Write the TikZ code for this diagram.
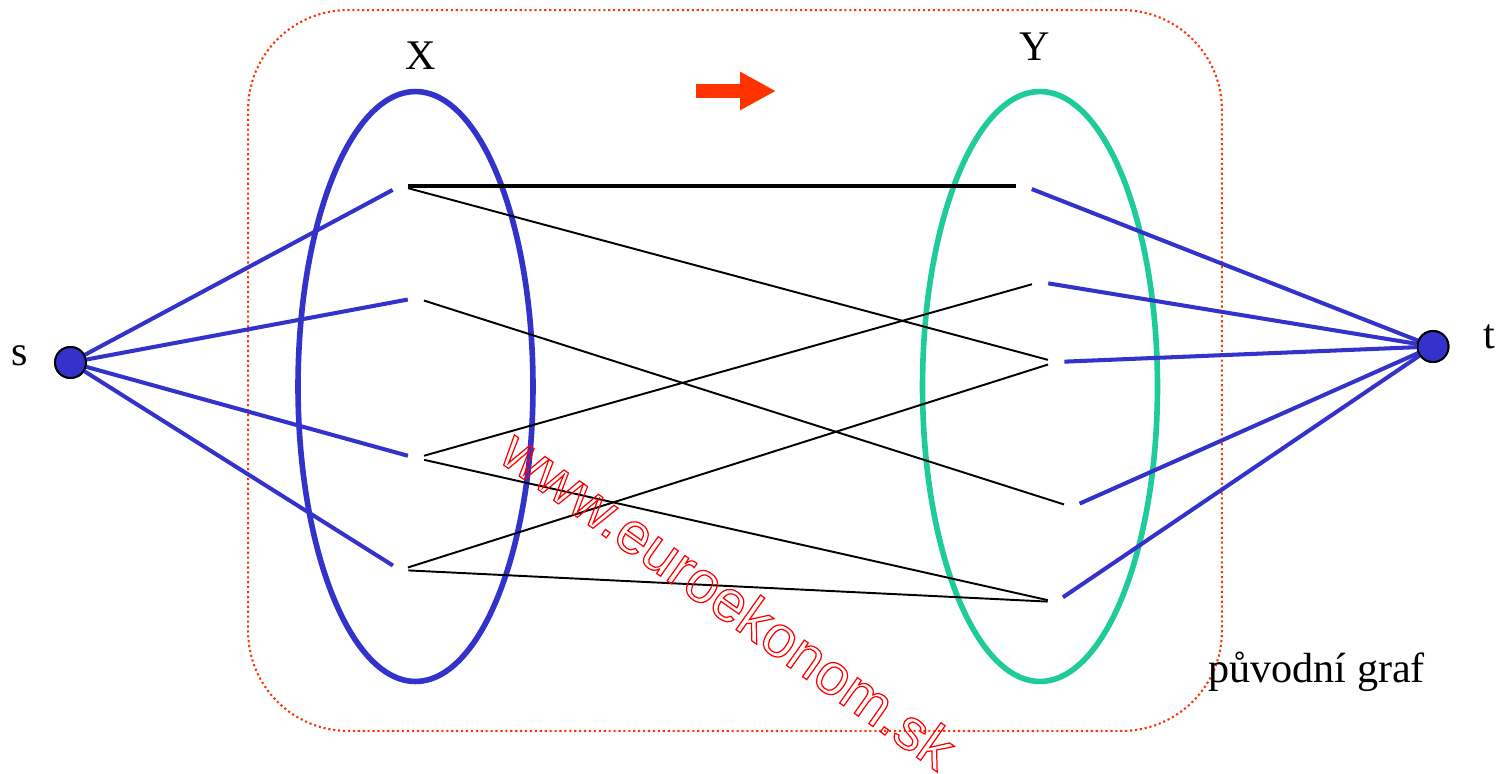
\documentclass[tikz,border=0pt]{standalone}
\usepackage{fontspec}
\usepackage{xcolor}
\usepackage{tikz}
\usetikzlibrary{arrows.meta,positioning,shapes.geometric}
\setmainfont{Liberation Serif}
\newfontfamily\wmfont{Liberation Sans}
\definecolor{grblue}{HTML}{3333CC}
\definecolor{grgreen}{HTML}{1FCC99}
\definecolor{grred}{HTML}{FF3300}
\definecolor{wmred}{HTML}{FF0000}
\newcommand{\outlinetext}[1]{{\color{wmred}\special{pdf:literal direct 1 Tr 0.7 w 1 0 0 RG}#1\special{pdf:literal direct 0 Tr}}}

\begin{document}
\begin{tikzpicture}[x=0.02cm, y=-0.02cm,
  font=\fontsize{24}{28}\selectfont,
  frame/.style={rectangle, rounded corners=2cm, draw=grred, line width=1.2pt,
                dash pattern=on 1.2pt off 1.6pt, minimum width=19.48cm, minimum height=14.42cm},
  part/.style={ellipse, line width=3.2pt, minimum width=4.7cm, minimum height=11.8cm, inner sep=0pt},
  vx/.style={circle, inner sep=0pt, minimum size=0.32cm},
  term/.style={circle, draw=black, line width=1.1pt, fill=grblue, minimum size=0.62cm, inner sep=0pt},
  flow/.style={draw=grblue, line width=2.3pt},
  edge/.style={draw=black, line width=1.1pt},
  lbl/.style={inner sep=0pt, anchor=base}]
\useasboundingbox (0,0) rectangle (1499,774);

\node[frame] (orig) at (735,370.5) {};
\node[part, draw=grblue] (X) at (415.5,386.5) {};
\node[part, draw=grgreen] (Y) at (1040,386.5) {};

% vrcholy v X a Y
\node[vx] (x1) at (400,186) {};
\node[vx] (x2) at (416,298) {};
\node[vx] (x3) at (416,458) {};
\node[vx] (x4) at (400,570) {};
\node[vx] (y1) at (1024,186) {};
\node[vx] (y2) at (1040,282) {};
\node[vx] (y3) at (1056,362) {};
\node[vx] (y4) at (1072,507) {};
\node[vx] (y5) at (1056,602) {};

\node[term] (s) at (70.5,362.5) {};
\node[term] (t) at (1433,346.5) {};

\draw[flow] (s) -- (x1);
\draw[flow] (s) -- (x2);
\draw[flow] (s) -- (x3);
\draw[flow] (s) -- (x4);
\draw[flow] (y1) -- (t);
\draw[flow] (y2) -- (t);
\draw[flow] (y3) -- (t);
\draw[flow] (y4) -- (t);
\draw[flow] (y5) -- (t);

\draw[edge, line width=1.8pt] (x1) -- (y1);
\draw[edge] (x1) -- (y3);
\draw[edge] (x2) -- (y4);
\draw[edge] (x3) -- (y2);
\draw[edge] (x3) -- (y5);
\draw[edge] (x4) -- (y3);
\draw[edge] (x4) -- (y5);

\node[term] at (s) {};
\node[term] at (t) {};

\node[lbl] (lX) at (420.5,70) {X};
\node[lbl] (lY) at (1035,60) {Y};
\node[lbl] (ls) at (19.5,365) {s};
\node[lbl] (lt) at (1489,348) {t};
\node[lbl, anchor=base west] (lorig) at (1208,682) {původní graf};

\coordinate (a0) at (696,91);
\coordinate (a1) at (776,91);
\draw[draw=grred, line width=0.28cm, -{Triangle[length=0.72cm, width=0.72cm]}] (a0) -- (a1);

\node[inner sep=0pt, rotate=-35.3, font=\wmfont\fontsize{33.3}{36}\selectfont] (wm) at (729,599)
  {\outlinetext{www.euroekonom.sk}};
\end{tikzpicture}
\end{document}
